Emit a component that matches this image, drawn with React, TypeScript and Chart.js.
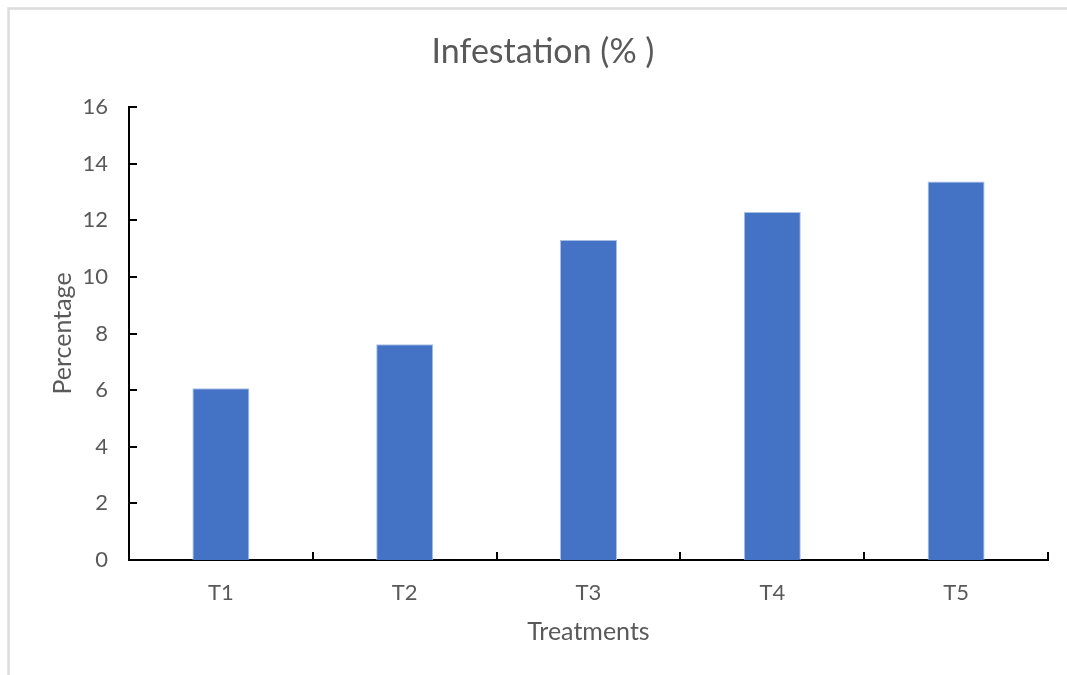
import React, { useEffect, useRef } from "react";
import { Chart, registerables } from "chart.js";

Chart.register(...registerables);

const categories: string[] = ["T1", "T2", "T3", "T4", "T5"];
const infestation: number[] = [6.07, 7.62, 11.3, 12.29, 13.37];
const yTicks: number[] = [0, 2, 4, 6, 8, 10, 12, 14, 16];
const chartTitle = "Infestation (% )";
const xTitle = "Treatments";
const yTitle = "Percentage";

const TEXT = "#595959";
const FONT = "Lato";

const decorPlugin = {
  id: "decor",
  afterLayout(chart: any) {
    if (chart.titleBlock) {
      chart.titleBlock.left = 19;
      chart.titleBlock.right = 1067;
    }
  },
  beforeDraw(chart: any) {
    const ctx = chart.ctx;
    ctx.save();
    ctx.strokeStyle = "#dcdcdc";
    ctx.lineWidth = 2.5;
    ctx.beginPath();
    ctx.moveTo(8.5, 675);
    ctx.lineTo(8.5, 8.5);
    ctx.lineTo(1067, 8.5);
    ctx.stroke();
    ctx.restore();
  },
  afterDraw(chart: any) {
    const ctx = chart.ctx;
    const y = chart.scales.y;
    const area = chart.chartArea;
    ctx.save();
    ctx.strokeStyle = "#000000";
    ctx.lineWidth = 2;
    ctx.beginPath();
    y.ticks.forEach((t: any, i: number) => {
      const py = Math.round(y.getPixelForTick(i));
      ctx.moveTo(area.left, py);
      ctx.lineTo(area.left + 8, py);
    });
    const n = categories.length;
    for (let i = 1; i <= n; i++) {
      const px = Math.round(area.left + ((area.right - area.left) * i) / n);
      ctx.moveTo(px, area.bottom);
      ctx.lineTo(px, area.bottom - 8);
    }
    ctx.stroke();
    ctx.restore();
  },
};

export default function App() {
  const ref = useRef<HTMLCanvasElement | null>(null);

  useEffect(() => {
    if (!ref.current) return;
    const chart = new Chart(ref.current, {
      type: "bar",
      data: {
        labels: categories,
        datasets: [
          {
            label: chartTitle,
            data: infestation,
            backgroundColor: "#4472C4",
            borderColor: "#a9bfe6",
            borderWidth: 1,
            categoryPercentage: 1,
            barPercentage: 0.31,
          },
        ],
      },
      options: {
        responsive: false,
        animation: false,
        layout: { padding: { left: 0, right: 19, top: 0, bottom: 0 } },
        plugins: {
          legend: { display: false },
          tooltip: { enabled: false },
          title: {
            display: true,
            text: chartTitle,
            color: TEXT,
            font: { family: FONT, size: 34, weight: "normal", lineHeight: 1.2 },
            padding: { top: 31.6, bottom: 34.6 },
          },
        },
        scales: {
          x: {
            afterFit(scale: any) {
              scale.height = 115;
            },
            grid: { display: false, drawTicks: false },
            border: { display: true, color: "#000000", width: 2 },
            ticks: {
              color: TEXT,
              font: { family: FONT, size: 22 },
              padding: 19.8,
            },
            title: {
              display: true,
              text: xTitle,
              color: TEXT,
              font: { family: FONT, size: 25, lineHeight: 1.2 },
              padding: { top: 0, bottom: 28 },
            },
          },
          y: {
            min: 0,
            max: 16,
            afterFit(scale: any) {
              scale.width = 129;
            },
            afterBuildTicks(scale: any) {
              scale.ticks = yTicks.map((v) => ({ value: v }));
            },
            grid: { display: false, drawTicks: false },
            border: { display: true, color: "#000000", width: 2 },
            ticks: {
              color: TEXT,
              font: { family: FONT, size: 22 },
              padding: 21,
            },
            title: {
              display: true,
              text: yTitle,
              color: TEXT,
              font: { family: FONT, size: 25, lineHeight: 1.2 },
              padding: { top: 48, bottom: 0 },
            },
          },
        },
      },
      plugins: [decorPlugin],
    });
    return () => chart.destroy();
  }, []);

  return (
    <div style={{ position: "fixed", left: 0, top: 0, width: 1067, height: 675, background: "#ffffff" }}>
      <canvas ref={ref} width={1067} height={675} style={{ display: "block" }} />
    </div>
  );
}
